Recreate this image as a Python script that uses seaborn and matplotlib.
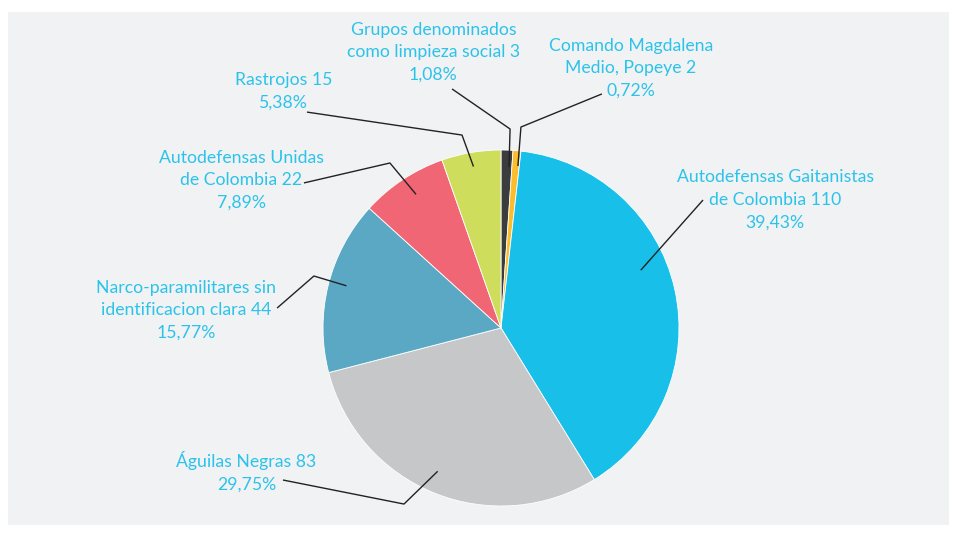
import numpy as np
import seaborn as sns
import matplotlib.pyplot as plt

# data - clockwise from the top
grupos = ['Grupos denominados\ncomo limpieza social',
          'Comando Magdalena\nMedio, Popeye',
          'Autodefensas Gaitanistas\nde Colombia',
          'Águilas Negras',
          'Narco-paramilitares sin\nidentificacion clara',
          'Autodefensas Unidas\nde Colombia',
          'Rastrojos']
casos = [3, 2, 110, 83, 44, 22, 15]
porcentajes = ['1,08%', '0,72%', '39,43%', '29,75%', '15,77%', '7,89%', '5,38%']
colores = ['#3b3c3e', '#fbbd2c', '#17bfe9', '#c6c7c9', '#5ba8c4', '#f06674', '#cedd5c']

# label layout (pie radius = 1): text centre, elbow, line end, anchor radius, anchor angle shift
texto_xy = [(-0.38, 1.55), (0.73, 1.46), (1.54, 0.72), (-1.43, -0.81),
            (-1.77, 0.10), (-1.46, 0.83), (-1.22, 1.33)]
codo = [(0.051, 1.118), (0.112, 1.129), None, (-0.545, -0.989),
        (-1.051, 0.292), (-0.624, 0.927), (-0.219, 1.084)]
fin = [(-0.275, 1.343), (0.567, 1.315), (1.135, 0.719), (-1.225, -0.854),
       (-1.258, 0.112), (-1.107, 0.815), (-1.09, 1.213)]
radio_anc = [0.905, 0.915, 0.85, 0.88, 0.90, 0.89, 0.92]
giro_anc = [-0.9, -0.8, 9.9, -1.9, -1.4, -1.1, 0]

sns.set_theme(style='white')
plt.rcParams['font.family'] = ['Lato', 'DejaVu Sans']

fig = plt.figure(figsize=(9.57, 5.35), dpi=100)
fig.patch.set_facecolor('white')

# grey panel behind everything
bg = fig.add_axes([8/957, 10/535, 941/957, 513/535], zorder=-1)
bg.set_facecolor('#f1f2f4')
bg.set_xticks([])
bg.set_yticks([])
for s in bg.spines.values():
    s.set_visible(False)

ax = fig.add_axes([0, 0, 1, 1], zorder=1)
ax.set_facecolor('none')
wedges, _ = ax.pie(casos, colors=colores, startangle=90, counterclock=False,
                   radius=1, wedgeprops=dict(edgecolor='white', linewidth=0.6))

for i, w in enumerate(wedges):
    ang = np.deg2rad((w.theta1 + w.theta2) / 2 + giro_anc[i])
    ax_pt = (radio_anc[i] * np.cos(ang), radio_anc[i] * np.sin(ang))
    pts = [ax_pt] + ([codo[i]] if codo[i] else []) + [fin[i]]
    xs, ys = zip(*pts)
    ax.plot(xs, ys, color='#222222', lw=1.0, solid_capstyle='butt')
    ax.text(texto_xy[i][0], texto_xy[i][1],
            f'{grupos[i]} {casos[i]}\n{porcentajes[i]}',
            ha='center', va='center', color='#2cc3ea', fontsize=12.7, linespacing=1.5)

ax.set_xlim(-501/178, (957-501)/178)
ax.set_ylim(-207/178, 328/178)
ax.set_aspect('auto')
ax.axis('off')

fig.savefig('out.png', dpi=100)
